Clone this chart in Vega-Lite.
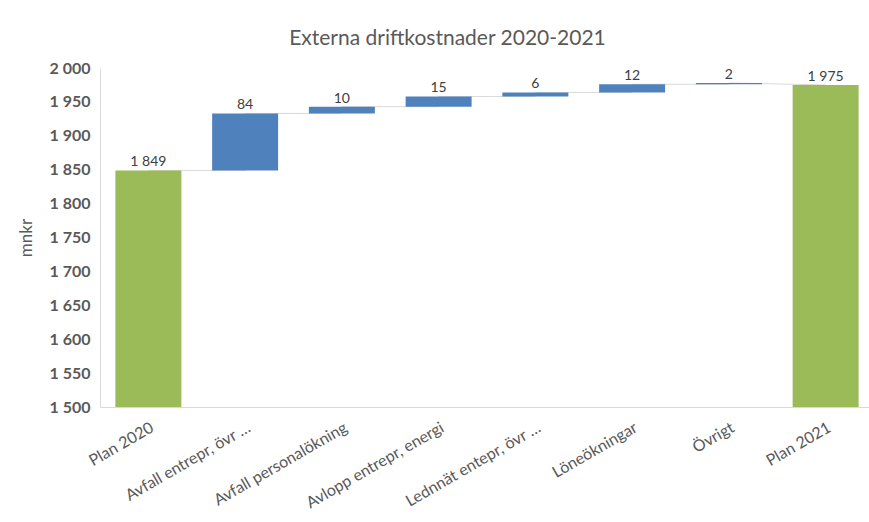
{
  "$schema": "https://vega.github.io/schema/vega-lite/v6.json",
  "autosize": {"type": "none"},
  "width": 769,
  "height": 339,
  "padding": {"left": 100, "top": 68, "right": 0, "bottom": 115},
  "background": "white",
  "title": {
    "text": "Externa driftkostnader 2020-2021",
    "font": "Lato",
    "fontSize": 21,
    "fontWeight": "normal",
    "color": "#595959",
    "anchor": "middle",
    "dx": -37,
    "offset": 11
  },
  "config": {
    "locale": {"number": {"decimal": ",", "thousands": " ", "grouping": [3], "currency": ["", " kr"]}},
    "view": {"stroke": null},
    "font": "Lato"
  },
  "datasets": {
    "bars": [
      {"cat": "Plan 2020", "start": 1500, "end": 1849, "value": 1849, "type": "total"},
      {"cat": "Avfall entrepr, övr …", "start": 1849, "end": 1933, "value": 84, "type": "delta"},
      {"cat": "Avfall personalökning", "start": 1933, "end": 1943, "value": 10, "type": "delta"},
      {"cat": "Avlopp entrepr, energi", "start": 1943, "end": 1958, "value": 15, "type": "delta"},
      {"cat": "Lednnät entepr, övr …", "start": 1958, "end": 1964, "value": 6, "type": "delta"},
      {"cat": "Löneökningar", "start": 1964, "end": 1976, "value": 12, "type": "delta"},
      {"cat": "Övrigt", "start": 1976, "end": 1978, "value": 2, "type": "delta"},
      {"cat": "Plan 2021", "start": 1500, "end": 1975, "value": 1975, "type": "total"}
    ],
    "conn": [
      {"from": "Plan 2020", "to": "Avfall entrepr, övr …", "y1": 1849, "y2": 1849},
      {"from": "Avfall entrepr, övr …", "to": "Avfall personalökning", "y1": 1933, "y2": 1933},
      {"from": "Avfall personalökning", "to": "Avlopp entrepr, energi", "y1": 1943, "y2": 1943},
      {"from": "Avlopp entrepr, energi", "to": "Lednnät entepr, övr …", "y1": 1958, "y2": 1958},
      {"from": "Lednnät entepr, övr …", "to": "Löneökningar", "y1": 1964, "y2": 1964},
      {"from": "Löneökningar", "to": "Övrigt", "y1": 1976, "y2": 1976},
      {"from": "Övrigt", "to": "Plan 2021", "y1": 1978, "y2": 1975}
    ]
  },
  "encoding": {
    "x": {
      "field": "cat",
      "type": "nominal",
      "sort": null,
      "scale": {
        "domain": ["Plan 2020", "Avfall entrepr, övr …", "Avfall personalökning", "Avlopp entrepr, energi", "Lednnät entepr, övr …", "Löneökningar", "Övrigt", "Plan 2021"],
        "range": [0, 774],
        "paddingInner": 0.318,
        "paddingOuter": 0.159
      },
      "axis": {
        "title": null,
        "labelAngle": -30,
        "labelFont": "Lato",
        "labelFontSize": 16,
        "labelColor": "#595959",
        "labelPadding": 12,
        "labelLimit": 0,
        "ticks": false,
        "domainColor": "#d9d9d9",
        "domainWidth": 1,
        "zindex": 1
      }
    },
    "y": {
      "type": "quantitative",
      "scale": {"domain": [1500, 2000], "nice": false, "zero": false},
      "axis": {
        "title": "mnkr",
        "titleFont": "Lato",
        "titleFontSize": 17,
        "titleFontWeight": "normal",
        "titleColor": "#595959",
        "titlePadding": 13,
        "values": [1500, 1550, 1600, 1650, 1700, 1750, 1800, 1850, 1900, 1950, 2000],
        "format": ",d",
        "labelFont": "Lato",
        "labelFontSize": 16,
        "labelFontWeight": "bold",
        "labelColor": "#595959",
        "labelPadding": 10,
        "ticks": false,
        "grid": false,
        "domainColor": "#d9d9d9",
        "domainWidth": 1
      }
    }
  },
  "layer": [
    {
      "data": {"name": "conn"},
      "mark": {"type": "rule", "color": "#d9d9d9", "strokeWidth": 1},
      "encoding": {
        "x": {"field": "from", "type": "nominal", "sort": null},
        "x2": {"field": "to"},
        "y": {"field": "y1", "type": "quantitative"},
        "y2": {"field": "y2"}
      }
    },
    {
      "data": {"name": "bars"},
      "mark": {"type": "bar"},
      "encoding": {
        "y": {"field": "start", "type": "quantitative"},
        "y2": {"field": "end"},
        "color": {
          "field": "type",
          "type": "nominal",
          "scale": {"domain": ["total", "delta"], "range": ["#9bbb59", "#4f81bd"]},
          "legend": null
        }
      }
    },
    {
      "data": {"name": "bars"},
      "mark": {"type": "text", "baseline": "alphabetic", "dy": -4, "font": "Lato", "fontSize": 14, "color": "#404040"},
      "encoding": {
        "y": {"field": "end", "type": "quantitative"},
        "text": {"field": "value", "type": "quantitative", "format": ",d"}
      }
    }
  ]
}
